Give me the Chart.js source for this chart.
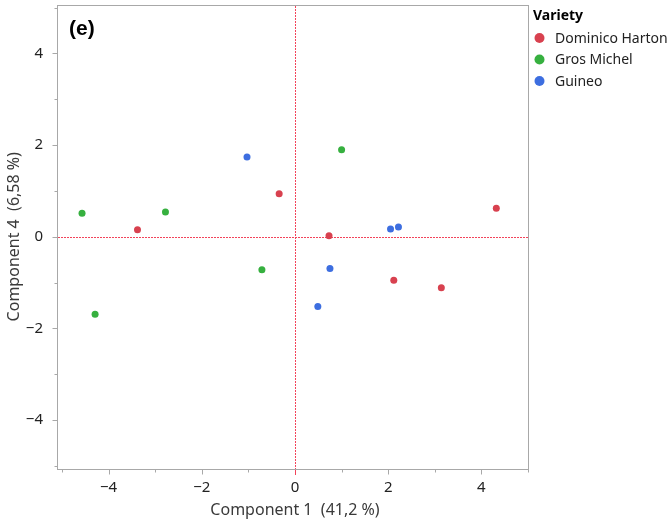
<!DOCTYPE html>
<html>
<head>
<meta charset="utf-8">
<script src="https://cdn.jsdelivr.net/npm/chart.js@4/dist/chart.umd.min.js"></script>
<style>
    html, body { margin: 0; padding: 0; background: #fff; }
    #wrap { position: relative; width: 670px; height: 522px; }
</style>
</head>
<body>
<div id="wrap"><canvas id="pcaChart" width="670" height="522"></canvas></div>
<script>
// ============================================
// DATA
// ============================================
const varieties = ['Dominico Harton', 'Gros Michel', 'Guineo'];
const varietyColors = ['#d8414f', '#36b03f', '#3d6ee0'];

// Component 1 / Component 4 scores per variety
const dominicoX = [-3.38, -0.34, 0.73, 4.32, 2.12, 3.14];
const dominicoY = [0.15, 0.94, 0.02, 0.62, -0.95, -1.11];
const grosX = [-4.57, -2.78, -4.29, -0.71, 1.00];
const grosY = [0.51, 0.54, -1.69, -0.72, 1.90];
const guineoX = [-1.03, 2.05, 2.22, 0.75, 0.49];
const guineoY = [1.74, 0.17, 0.21, -0.69, -1.52];

const axisTicks = [-4, -2, 0, 2, 4];
const panelLabel = '(e)';
const xTitle = 'Component 1  (41,2 %)';
const yTitle = 'Component 4  (6,58 %)';
const legendTitle = 'Variety';

const FONT = '"Noto Sans", "Open Sans", sans-serif';
const REF_RED = '#f2435a';

function toPoints(xs, ys) {
    return xs.map((x, i) => ({ x: x, y: ys[i] }));
}

// ============================================
// PLUGINS
// ============================================
const framePlugin = {
    id: 'frame',
    beforeDatasetsDraw(chart) {
        const ctx = chart.ctx;
        const xs = chart.scales.x;
        const ys = chart.scales.y;
        const left = 57, top = 5, right = 528, bottom = 469;

        ctx.save();
        // dotted reference lines through zero
        ctx.fillStyle = REF_RED;
        const x0 = Math.round(xs.getPixelForValue(0));
        const y0 = Math.round(ys.getPixelForValue(0));
        for (let y = top + 1; y < bottom; y += 3) {
            ctx.fillRect(x0, y, 1, 2);
        }
        for (let x = left + 1; x < right; x += 3) {
            ctx.fillRect(x, y0, 2, 1);
        }

        // frame
        ctx.strokeStyle = '#a8a8a8';
        ctx.lineWidth = 1;
        ctx.strokeRect(left + 0.5, top + 0.5, right - left, bottom - top);

        // tick marks
        ctx.beginPath();
        for (let v = -5; v <= 5; v++) {
            const len = v % 2 === 0 ? 5 : 3;
            const px = Math.round(xs.getPixelForValue(v)) + 0.5;
            ctx.moveTo(px, bottom + 0.5);
            ctx.lineTo(px, bottom + 0.5 + len);
            const py = Math.round(ys.getPixelForValue(v)) + 0.5;
            ctx.moveTo(left + 0.5, py);
            ctx.lineTo(left + 0.5 - len, py);
        }
        ctx.stroke();
        ctx.fillStyle = REF_RED;
        ctx.fillRect(x0, bottom + 1, 1, 5);

        // panel label
        ctx.fillStyle = '#000';
        ctx.font = 'bold 21px "Liberation Sans", Arial, sans-serif';
        ctx.textBaseline = 'middle';
        ctx.textAlign = 'left';
        ctx.fillText(panelLabel, 69, 29);
        ctx.restore();
    }
};

const legendPlugin = {
    id: 'varietyLegend',
    afterDraw(chart) {
        const ctx = chart.ctx;
        ctx.save();
        ctx.textBaseline = 'middle';
        ctx.textAlign = 'left';
        ctx.fillStyle = '#000';
        ctx.font = 'bold 14px ' + FONT;
        ctx.fillText(legendTitle, 533, 16);
        ctx.font = '14px ' + FONT;
        varieties.forEach((name, i) => {
            const cy = 38 + i * 21.5;
            ctx.fillStyle = varietyColors[i];
            ctx.beginPath();
            ctx.arc(539.5, cy, 5, 0, Math.PI * 2);
            ctx.fill();
            ctx.fillStyle = '#222';
            ctx.fillText(name, 555, cy + 1);
        });
        ctx.restore();
    }
};

// ============================================
// CHART
// ============================================
const axisCommon = {
    type: 'linear',
    min: -5,
    max: 5,
    grid: { display: false },
    border: { display: false },
    afterBuildTicks(scale) {
        scale.ticks = [];
        for (let v = -5; v <= 5; v++) scale.ticks.push({ value: v });
    }
};

const tickLabel = v => axisTicks.includes(v) ? String(v).replace('-', '\u2212') : '';

new Chart(document.getElementById('pcaChart'), {
    type: 'scatter',
    data: {
        datasets: [
            { label: varieties[0], data: toPoints(dominicoX, dominicoY), backgroundColor: varietyColors[0] },
            { label: varieties[1], data: toPoints(grosX, grosY), backgroundColor: varietyColors[1] },
            { label: varieties[2], data: toPoints(guineoX, guineoY), backgroundColor: varietyColors[2] }
        ]
    },
    options: {
        responsive: false,
        animation: false,
        layout: { padding: { top: 7.5, right: 142, left: 0, bottom: 0 } },
        elements: { point: { radius: 3.5, borderWidth: 0, hoverRadius: 3.5 } },
        plugins: {
            legend: { display: false },
            tooltip: { enabled: false }
        },
        scales: {
            x: Object.assign({}, axisCommon, {
                position: 'bottom',
                afterFit(scale) {
                    scale.height = 56;
                    scale.paddingLeft = 0;
                    scale.paddingRight = 0;
                },
                ticks: {
                    autoSkip: false,
                    maxRotation: 0,
                    padding: 5,
                    color: '#222',
                    font: { family: FONT, size: 15 },
                    callback: tickLabel
                },
                title: {
                    display: true,
                    text: xTitle,
                    color: '#3a3a3a',
                    font: { family: FONT, size: 16 },
                    padding: { top: 0, bottom: 2 }
                }
            }),
            y: Object.assign({}, axisCommon, {
                position: 'left',
                afterFit(scale) {
                    scale.width = 62;
                    scale.paddingTop = 0;
                    scale.paddingBottom = 0;
                },
                ticks: {
                    autoSkip: false,
                    padding: 11,
                    color: '#222',
                    font: { family: FONT, size: 15 },
                    callback: tickLabel
                },
                title: {
                    display: true,
                    text: yTitle,
                    color: '#3a3a3a',
                    font: { family: FONT, size: 16 },
                    padding: { top: 5, bottom: 0 }
                }
            })
        }
    },
    plugins: [framePlugin, legendPlugin]
});
</script>
</body>
</html>
